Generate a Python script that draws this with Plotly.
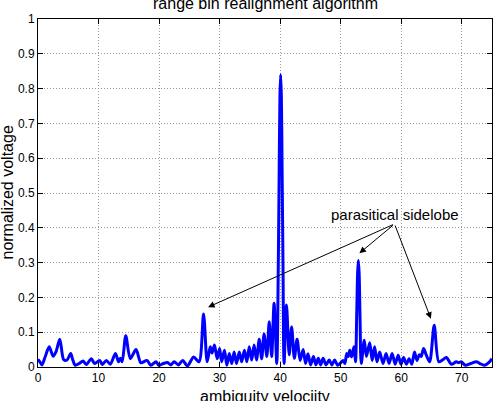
import plotly.graph_objects as go

# ambiguity velocity (x) and normalized voltage (y)
velocity = [
    0.0, 0.3, 0.65, 1.2, 1.85, 2.5, 3.0, 3.6, 4.25, 4.8, 5.4, 5.75, 6.15, 6.8, 7.45, 8.0,
    8.8, 9.35, 10.2, 10.6, 11.3, 11.95, 12.8, 13.3, 13.6, 13.9, 14.5, 15.25, 16.2, 17.0,
    18.0, 18.65, 19.5, 19.95, 20.7, 21.4, 21.95, 22.5, 23.2, 23.9, 24.7, 25.7, 26.6, 27.35,
    27.95, 28.45, 28.75, 29.15, 29.6, 30.0, 30.35, 30.8, 31.2, 31.6, 32.0, 32.4, 32.8,
    33.25, 33.65, 34.1, 34.5, 34.9, 35.3, 35.7, 36.1, 36.55, 36.95, 37.35, 37.8, 38.2,
    38.6, 39.0, 39.45, 39.7, 39.85, 39.97, 40.08, 40.2, 40.32, 40.47, 40.65, 41.05, 41.5,
    41.9, 42.35, 42.8, 43.3, 43.8, 44.2, 44.6, 45.05, 45.5, 45.9, 46.3, 46.7, 47.1, 47.6,
    48.1, 48.55, 49.0, 49.5, 50.0, 50.4, 50.7, 51.0, 51.25, 51.5, 51.8, 52.2, 52.45, 52.65,
    52.8, 52.92, 53.05, 53.2, 53.4, 53.9, 54.25, 54.8, 55.2, 55.6, 56.0, 56.45, 57.0, 57.5,
    58.0, 58.5, 59.0, 59.5, 59.95, 60.4, 60.85, 61.3, 61.75, 62.2, 62.6, 63.0, 63.3, 63.7,
    64.15, 64.7, 65.45, 66.2, 66.8, 67.45, 68.3, 69.1, 69.5, 69.9, 70.6, 71.5, 72.4, 73.0,
    73.75, 74.6, 75.0,
]
voltage = [
    0.022, 0.015, 0.006, 0.03, 0.058, 0.031, 0.045, 0.08, 0.021, 0.02, 0.039, 0.02, 0.005,
    0.01, 0.017, 0.007, 0.024, 0.01, 0.019, 0.007, 0.019, 0.008, 0.039, 0.015, 0.025, 0.015,
    0.09, 0.024, 0.05, 0.012, 0.019, 0.005, 0.015, 0.005, 0.01, 0.013, 0.006, 0.015, 0.006,
    0.019, 0.003, 0.029, 0.015, 0.152, 0.015, 0.058, 0.04, 0.063, 0.024, 0.053, 0.015,
    0.048, 0.005, 0.039, 0.01, 0.043, 0.01, 0.043, 0.015, 0.048, 0.015, 0.058, 0.02, 0.063,
    0.02, 0.08, 0.024, 0.095, 0.03, 0.13, 0.03, 0.183, 0.01, 0.3, 0.58, 0.78, 0.84, 0.78,
    0.58, 0.3, 0.01, 0.178, 0.035, 0.115, 0.025, 0.08, 0.019, 0.05, 0.01, 0.038, 0.006,
    0.03, 0.006, 0.025, 0.006, 0.025, 0.006, 0.02, 0.006, 0.02, 0.005, 0.012, 0.019, 0.01,
    0.039, 0.03, 0.048, 0.029, 0.058, 0.015, 0.15, 0.27, 0.307, 0.27, 0.14, 0.01, 0.077,
    0.03, 0.07, 0.019, 0.058, 0.015, 0.043, 0.01, 0.039, 0.01, 0.039, 0.008, 0.034, 0.008,
    0.027, 0.008, 0.024, 0.008, 0.043, 0.019, 0.035, 0.03, 0.053, 0.034, 0.015, 0.12,
    0.015, 0.02, 0.027, 0.008, 0.015, 0.012, 0.015, 0.005, 0.01, 0.015, 0.01, 0.005, 0.015,
    0.024,
]

x_ticks = [0, 10, 20, 30, 40, 50, 60, 70]
y_ticks = [0, 0.1, 0.2, 0.3, 0.4, 0.5, 0.6, 0.7, 0.8, 0.9, 1]
y_tick_labels = ["0", "0.1", "0.2", "0.3", "0.4", "0.5", "0.6", "0.7", "0.8", "0.9", "1"]

title_text = "range bin realignment algorithm"
x_label = "ambiguity velociity"
y_label = "normalized voltage"
note_text = "parasitical sidelobe"
note_tail = (58.9, 0.411)
note_heads = [(28.1, 0.172), (53.1, 0.327), (64.9, 0.139)]

FONT = "Liberation Sans, Arial, Helvetica, sans-serif"

fig = go.Figure()
fig.add_trace(go.Scatter(
    x=velocity, y=voltage, mode="lines",
    line=dict(color="#0000ff", width=3, shape="spline", smoothing=0.8),
    hoverinfo="skip", showlegend=False,
))

axis_common = dict(
    showline=True, linecolor="black", linewidth=1, mirror="ticks",
    ticks="inside", ticklen=5, tickcolor="black", tickwidth=1,
    showgrid=True, gridcolor="#9a9a9a", griddash="1px,2px", gridwidth=1,
    zeroline=False, tickfont=dict(family=FONT, size=12, color="black"),
)

fig.update_xaxes(range=[0, 75], tickvals=x_ticks, ticktext=[str(v) for v in x_ticks],
                 **axis_common)
fig.update_yaxes(range=[0, 1], tickvals=y_ticks, ticktext=y_tick_labels, **axis_common)

annotations = []
for hx, hy in note_heads:
    annotations.append(dict(
        x=hx, y=hy, xref="x", yref="y", ax=note_tail[0], ay=note_tail[1],
        axref="x", ayref="y", text="", showarrow=True, arrowhead=2,
        arrowsize=1.3, arrowwidth=1, arrowcolor="black",
    ))
annotations.append(dict(
    x=note_tail[0], y=note_tail[1], xref="x", yref="y", text=note_text,
    showarrow=False, yanchor="bottom", xanchor="center", yshift=-1,
    font=dict(family=FONT, size=15, color="black"),
))
annotations.append(dict(
    x=0.5, y=1.0, xref="paper", yref="paper", text=title_text, showarrow=False,
    yanchor="bottom", yshift=5, font=dict(family=FONT, size=16, color="black"),
))
annotations.append(dict(
    x=0.5, y=0.0, xref="paper", yref="paper", text=x_label, showarrow=False,
    yanchor="top", yshift=-19, font=dict(family=FONT, size=16, color="black"),
))
annotations.append(dict(
    x=0.0, y=0.5, xref="paper", yref="paper", text=y_label, showarrow=False,
    textangle=-90, xanchor="right", xshift=-21,
    font=dict(family=FONT, size=16, color="black"),
))

fig.update_layout(
    width=494, height=401,
    margin=dict(l=37.5, r=1.5, t=19, b=34, pad=0),
    paper_bgcolor="white", plot_bgcolor="white",
    annotations=annotations,
)

fig.write_html("out.html")
